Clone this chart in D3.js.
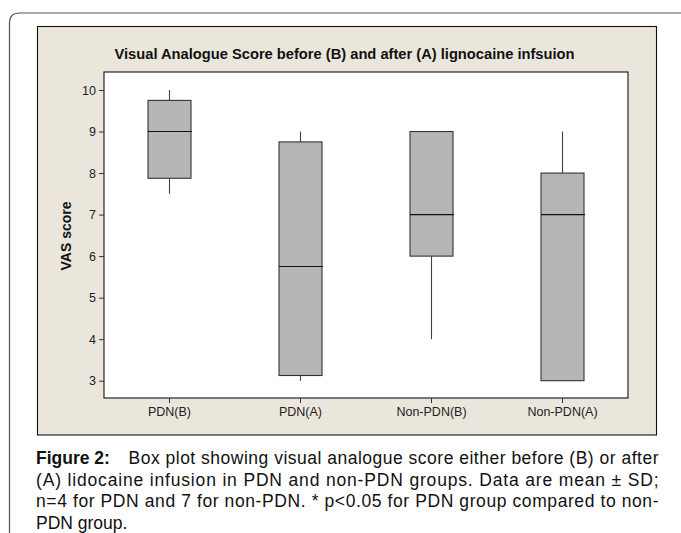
<!DOCTYPE html>
<html>
<head>
<meta charset="utf-8">
<script src="https://cdn.jsdelivr.net/npm/d3@7"></script>
<style>
  body { margin: 0; background: #fff; }
  svg { display: block; }
</style>
</head>
<body>
<div id="chart"></div>
<script>
  "use strict";

  // box plot summary
  var categories = ["PDN(B)", "PDN(A)", "Non-PDN(B)", "Non-PDN(A)"];
  var whiskLow  = [7.5,   3,    4, 3];
  var q1        = [7.875, 3.125, 6, 3];
  var median    = [9,     5.75,  7, 7];
  var q3        = [9.75,  8.75,  9, 8];
  var whiskHigh = [10,    9,     9, 9];
  var yTicks = [3, 4, 5, 6, 7, 8, 9, 10];

  var title = "Visual Analogue Score before (B) and after (A) lignocaine infsuion";
  var yLabel = "VAS score";
  var captionBold = "Figure 2:";
  var captionLines = [
    "Box plot showing visual analogue score either before (B) or after",
    "(A) lidocaine infusion in PDN and non-PDN groups. Data are mean \u00b1 SD;",
    "n=4 for PDN and 7 for non-PDN. * p<0.05 for PDN group compared to non-",
    "PDN group."
  ];

  var W = 681, H = 533;
  var plot = { left: 104, right: 628, top: 72, bottom: 398 };

  var svg = d3.select("#chart").append("svg")
    .attr("width", W)
    .attr("height", H);

  svg.append("rect").attr("width", W).attr("height", H).attr("fill", "#fff");

  // outer card border (rounded top-left corner, runs off right and bottom)
  svg.append("path")
    .attr("d", "M9.5," + H + " V23 Q9.5,13 19.5,13 H" + W)
    .attr("fill", "none")
    .attr("stroke", "#555")
    .attr("stroke-width", 1.2);

  // beige panel
  svg.append("rect")
    .attr("x", 37.5).attr("y", 26.5)
    .attr("width", 619).attr("height", 408.5)
    .attr("fill", "#ebe6dc")
    .attr("stroke", "#111")
    .attr("stroke-width", 1.1);

  // plot area
  svg.append("rect")
    .attr("x", plot.left).attr("y", plot.top)
    .attr("width", plot.right - plot.left).attr("height", plot.bottom - plot.top)
    .attr("fill", "#fff")
    .attr("stroke", "#111")
    .attr("stroke-width", 1.1);

  var y = d3.scaleLinear().domain([3, 10]).range([380.7, 90]);
  var x = d3.scaleBand().domain(categories).range([plot.left, plot.right]).padding(0);
  var boxW = 43;

  var yAxis = svg.append("g")
    .attr("transform", "translate(" + plot.left + ",0)")
    .call(d3.axisLeft(y).tickValues(yTicks).tickFormat(d3.format("d")).tickSize(5).tickPadding(3));
  yAxis.select(".domain").remove();

  var xAxis = svg.append("g")
    .attr("transform", "translate(0," + plot.bottom + ")")
    .call(d3.axisBottom(x).tickSize(5).tickPadding(4));
  xAxis.select(".domain").remove();

  svg.selectAll(".tick line").attr("stroke", "#333");
  svg.selectAll(".tick text")
    .attr("fill", "#222")
    .attr("font-family", "'Liberation Sans', Arial, sans-serif")
    .attr("font-size", 12.5);

  // boxes
  var boxes = svg.append("g").selectAll("g")
    .data(categories)
    .join("g")
    .attr("transform", function (d) { return "translate(" + (x(d) + x.bandwidth() / 2) + ",0)"; });

  boxes.append("line")
    .attr("x1", 0).attr("x2", 0)
    .attr("y1", function (d, i) { return y(whiskHigh[i]); })
    .attr("y2", function (d, i) { return y(q3[i]); })
    .attr("stroke", "#444").attr("stroke-width", 1.1);

  boxes.append("line")
    .attr("x1", 0).attr("x2", 0)
    .attr("y1", function (d, i) { return y(q1[i]); })
    .attr("y2", function (d, i) { return y(whiskLow[i]); })
    .attr("stroke", "#444").attr("stroke-width", 1.1);

  boxes.append("rect")
    .attr("x", -boxW / 2)
    .attr("width", boxW)
    .attr("y", function (d, i) { return y(q3[i]); })
    .attr("height", function (d, i) { return y(q1[i]) - y(q3[i]); })
    .attr("fill", "#b5b6b5")
    .attr("stroke", "#333")
    .attr("stroke-width", 1.1);

  boxes.append("line")
    .attr("x1", -boxW / 2).attr("x2", boxW / 2 + 1)
    .attr("y1", function (d, i) { return y(median[i]); })
    .attr("y2", function (d, i) { return y(median[i]); })
    .attr("stroke", "#111").attr("stroke-width", 1.1);

  // titles
  svg.append("text")
    .attr("x", 114.5).attr("y", 59)
    .attr("textLength", 460)
    .attr("lengthAdjust", "spacingAndGlyphs")
    .attr("font-family", "'Liberation Sans', Arial, sans-serif")
    .attr("font-weight", "bold")
    .attr("font-size", 14)
    .attr("fill", "#111")
    .text(title);

  svg.append("text")
    .attr("transform", "translate(70.5,236) rotate(-90)")
    .attr("text-anchor", "middle")
    .attr("font-family", "'Liberation Sans', Arial, sans-serif")
    .attr("font-weight", "bold")
    .attr("font-size", 14)
    .attr("fill", "#111")
    .text(yLabel);

  // caption
  var cap = svg.append("g")
    .attr("font-family", "'Liberation Sans', Arial, sans-serif")
    .attr("font-size", 17.5)
    .attr("fill", "#111");

  cap.append("text")
    .attr("x", 36).attr("y", 464)
    .attr("font-weight", "bold")
    .text(captionBold);

  var capRight = 658.5;
  captionLines.forEach(function (line, i) {
    var x0 = i === 0 ? 128.5 : 36;
    var t = cap.append("text")
      .attr("x", x0)
      .attr("y", 464 + i * 21.5)
      .text(line);
    if (i < captionLines.length - 1) {
      t.attr("textLength", capRight - x0).attr("lengthAdjust", "spacing");
    }
  });
</script>
</body>
</html>
